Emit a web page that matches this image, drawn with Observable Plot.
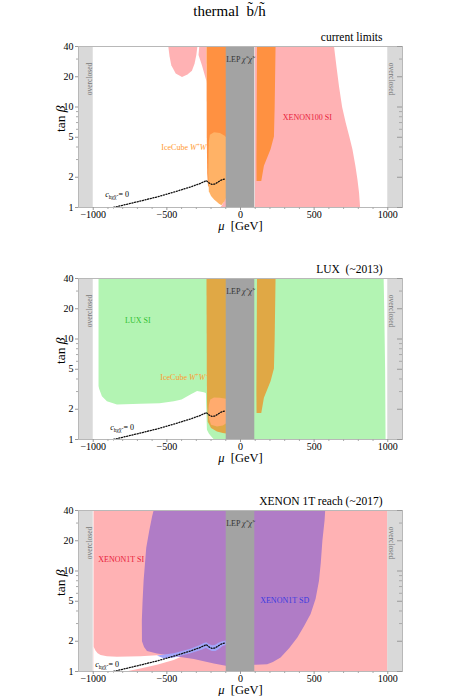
<!DOCTYPE html>
<html><head><meta charset="utf-8">
<script src="https://cdn.jsdelivr.net/npm/d3@7"></script>
<script src="https://cdn.jsdelivr.net/npm/@observablehq/plot@0.6"></script>
<style>
body{margin:0;background:#fff;overflow:hidden;width:459px;height:696px;font-family:"Liberation Serif",serif;}
#title{height:21px;padding-top:2px;line-height:18px;text-align:center;font-size:15px;color:#000;}
svg{display:block}
</style></head><body>
<div id="title">thermal&nbsp; b&#771;/h&#771;</div>
<div id="charts"></div>
<script>
// ---------- axes / shared ----------
const muDomain = [-1100, 1100];
const tanDomain = [1, 40];
const muMajor = [-1000, -500, 0, 500, 1000];
const muMinor = [-900,-800,-700,-600,-400,-300,-200,-100,100,200,300,400,600,700,800,900];
const tanMajor = [1, 2, 5, 10, 20, 40];
const tanMinor = [3, 4, 6, 7, 8, 9, 30];
const overclosedBands = [[-1100, -1000], [1000, 1100]];
const lepBand = [[-97, 97]];

// c_hχχ = 0 contour (dotted)
const cZeroMu  = [-862,-780,-680,-560,-454,-340,-280,-249,-232,-222,-210,-195,-175,-155,-136,-118,-100];
const cZeroTan = [1.0, 1.07, 1.16, 1.28, 1.42, 1.6, 1.72, 1.8, 1.85, 1.8, 1.74, 1.70, 1.71, 1.78, 1.86, 1.9, 1.93];

// ---------- panel 1: current limits ----------
const xenon100Right = [[97,40],[635,40],[652,25],[669,16],[690,10],[714,7],[740,5],[760,3.8],[780,2.6],[794,1.9],[805,1.4],[812,1],[97,1]];
const xenon100LeftTop = [[-490,40],[-482,32],[-470,26],[-440,21.5],[-397,19.9],[-360,21],[-330,23],[-312,27],[-300,33],[-293,40]];
const xenon100LeftStrip = [[-280,40],[-231,40],[-231,18],[-262,26],[-285,33]];
const xenon100LeftFoot = [[-140,1],[-97,1],[-97,1.3],[-112,1.15],[-128,1.04]];
const iceCubeLeft = [[-231,40],[-97,40],[-97,3],[-220,1.6],[-226,2.2],[-229,5]];
const iceCubeLeftSoft = [[-215,4.5],[-208,5.3],[-180,5.6],[-140,5.5],[-110,5.2],[-97,5],[-97,1.25],[-110,1.15],[-130,1.05],[-150,1.1],[-181,1.21],[-200,1.3],[-215,1.45],[-219,2.2],[-217,3.2]];
const iceCubeRight = [[115,40],[238,40],[232,10],[227,5.1],[204,3.8],[159,2.6],[141,1.84],[109,1.84],[108,3],[110,10],[112,40]];

// ---------- panel 2: LUX ----------
const luxSI = [[-964,40],[972,40],[976,20],[982,5],[985,1],[-180,1],[-200,1.08],[-215,1.15],[-228,1.25],[-232,2.0],[-235,2.9],[-249,2.95],[-295,3.03],[-340,2.8],[-400,2.5],[-453,2.4],[-550,2.3],[-680,2.27],[-839,2.23],[-907,2.4],[-941,2.7],[-960,3.2],[-964,3.4]];
const iceCubeLeftLux = [[-231,40],[-97,40],[-97,1.15],[-120,1.16],[-160,1.2],[-200,1.3],[-222,1.5],[-227,2.2],[-229,5]];
const iceCubeLeftLuxSoft = [[-215,2.2],[-205,2.5],[-180,2.62],[-140,2.6],[-97,2.55],[-97,1.45],[-120,1.38],[-160,1.35],[-200,1.4],[-213,1.6],[-218,1.9]];

// ---------- panel 3: XENON 1T ----------
const xenon1tSI = [[-998,40],[998,40],[998,1],[-998,1]];
const xenon1tSIGap = [[-998,1.77],[-985,1.62],[-970,1.52],[-950,1.46],[-907,1.42],[-839,1.4],[-680,1.42],[-567,1.45],[-454,1.45],[-395,1.42],[-454,1.3],[-567,1.17],[-680,1.07],[-780,1.0],[-998,1]];
const xenon1tSD = [[-590,40],[575,40],[571,32],[556,20],[545,12],[533,8],[510,5.3],[476,3.73],[430,2.8],[386,2.18],[330,1.7],[272,1.38],[220,1.24],[181,1.18],[102,1.17],[-100,1.14],[-181,1.2],[-317,1.33],[-454,1.43],[-567,1.51],[-635,1.6],[-655,1.75],[-669,2.0],[-670,3.2],[-665,5],[-658,8],[-640,17],[-620,25],[-600,35]];
const xenon1tSDBand = [[-567,1.44],[-454,1.52],[-340,1.68],[-280,1.82],[-249,1.92],[-232,1.96],[-215,1.88],[-195,1.82],[-175,1.84],[-150,1.93],[-125,2.0],[-100,2.03],[-100,1.84],[-120,1.8],[-145,1.68],[-170,1.6],[-195,1.6],[-215,1.66],[-235,1.72],[-260,1.66],[-340,1.52],[-454,1.38],[-520,1.35]];

// ---------- colours ----------
const C = {
  pink: "#ffb2b4", orange: "#ff9141", orangeSoft: "#ffb266", gold: "#e0a845", salmon: "#ffab6e",
  green: "#b3f4b3", purple: "#b07cc6", band: "#a3a6fb", lep: "#a3a3a3", over: "#d9d9d9"
};

const rich = {
  "LEP χχ": 'LEP <tspan font-style="italic">χ̃</tspan><tspan dy="-3" font-size="5">−</tspan><tspan dy="3" font-style="italic">χ̃</tspan><tspan dy="-3" font-size="5">+</tspan>',
  "IceCube WW": 'IceCube <tspan font-style="italic">W</tspan><tspan dy="-3" font-size="5.5">+</tspan><tspan dy="3" font-style="italic">W</tspan><tspan dy="-3" font-size="5.5">−</tspan>',
  "c=0": '<tspan fill="#000" font-style="italic">c</tspan><tspan fill="#000" dy="2" font-size="5.5">hχ̃χ̃</tspan><tspan fill="#000" dy="-2"> = 0</tspan>',
  "tan β": 'tan <tspan font-style="italic">β</tspan>',
  "μ [GeV]": '<tspan font-style="italic">μ</tspan>  [GeV]'
};

const pxPerMu = (459 - 78 - 57) / (muDomain[1] - muDomain[0]);

function poly(points, fill) {
  return Plot.line(points, {x: d => d[0], y: d => d[1], fill, stroke: "none", curve: "linear", clip: true});
}

function panel(cfg) {
  const marks = [
    ...cfg.regions.map(([pts, fill]) => poly(pts, fill)),
    Plot.rect(lepBand, {x1: d => d[0], x2: d => d[1], y1: () => tanDomain[0], y2: () => tanDomain[1], fill: C.lep}),
    Plot.rect(overclosedBands, {x1: d => d[0], x2: d => d[1], y1: () => tanDomain[0], y2: () => tanDomain[1], fill: C.over}),
    Plot.line(cZeroMu.map((m, i) => [m, cZeroTan[i]]), {x: d => d[0], y: d => d[1], stroke: "#111", strokeWidth: 1.3, strokeDasharray: "1.1,1.6"}),
    Plot.text(["overclosed"], {x: () => -1027, y: () => 19, rotate: -90, fontSize: 7.5, fill: "#777", lineAnchor: "middle"}),
    Plot.text(["overclosed"], {x: () => 1027, y: () => 19, rotate: 90, fontSize: 7.5, fill: "#777", lineAnchor: "middle"}),
    Plot.text(["LEP χχ"], {x: () => 0, y: () => 29.5, fontSize: 8, fill: "#333", lineAnchor: "middle"}),
    ...cfg.labels.map(l => Plot.text([l.t], {x: () => l.x, y: () => l.y, fill: l.c, fontSize: l.s || 8, textAnchor: l.a || "middle", lineAnchor: "middle"})),
    Plot.frame({stroke: "#b8b8b8"}),
    Plot.axisX({ticks: muMajor, tickSize: 3, tickPadding: 0, fontSize: 10, label: null, stroke: "#999", tickFormat: d => d < 0 ? "−" + Math.abs(d) : String(d)}),
    Plot.axisX({ticks: muMinor, tickSize: 2, label: null, stroke: "#aaa", tickFormat: () => ""}),
    Plot.axisY({ticks: tanMajor, tickSize: 3, tickPadding: 2, fontSize: 10, label: null, stroke: "#999", tickFormat: d => String(d)}),
    Plot.axisY({ticks: tanMinor, tickSize: 2, label: null, stroke: "#aaa", tickFormat: () => ""}),
    Plot.ruleY(tanMajor, {x1: () => muDomain[1] - 5 / pxPerMu, x2: () => muDomain[1], stroke: "#999"}),
    Plot.ruleY(tanMinor, {x1: () => muDomain[1] - 3 / pxPerMu, x2: () => muDomain[1], stroke: "#aaa"}),
    Plot.text([cfg.subtitle], {frameAnchor: "top-right", dx: -20, dy: -9, textAnchor: "end", lineAnchor: "middle", fontSize: 11.5, fill: "#000"}),
    Plot.text(["tan β"], {frameAnchor: "left", dx: -18, dy: 5, rotate: -90, fontSize: 13.5, fill: "#000", lineAnchor: "middle"}),
    Plot.text(["μ [GeV]"], {frameAnchor: "bottom", dy: 18, fontSize: 12.5, fill: "#000", lineAnchor: "middle"})
  ];
  const svg = Plot.plot({
    width: 459, height: 232,
    marginLeft: 78, marginRight: 57, marginTop: 23, marginBottom: 48,
    x: {domain: muDomain, axis: null},
    y: {type: "log", domain: tanDomain, axis: null},
    style: {fontFamily: "Liberation Serif, serif", fontSize: "10px", background: "white", color: "#000"},
    marks
  });
  d3.select(svg).selectAll("text").each(function () {
    const t = this.textContent;
    if (rich[t] !== undefined) this.innerHTML = rich[t];
  });
  return svg;
}

const panels = [
  {
    subtitle: "current limits",
    regions: [[xenon100Right, C.pink], [xenon100LeftTop, C.pink], [xenon100LeftStrip, C.pink], [xenon100LeftFoot, C.pink],
              [iceCubeLeft, C.orange], [iceCubeLeftSoft, C.orangeSoft], [iceCubeRight, C.orange]],
    labels: [
      {t: "IceCube WW", x: -374, y: 3.96, c: "#ff9a30"},
      {t: "XENON100 SI", x: 454, y: 7.9, c: "#e8203a"},
      {t: "c=0", x: -918, y: 1.355, c: "#000", a: "start"}
    ]
  },
  {
    subtitle: "LUX  (~2013)",
    regions: [[luxSI, C.green], [iceCubeLeftLux, C.gold], [iceCubeLeftLuxSoft, C.salmon], [iceCubeRight, C.gold]],
    labels: [
      {t: "LUX SI", x: -697, y: 15.3, c: "#2fbf2f"},
      {t: "IceCube WW", x: -381, y: 4.1, c: "#ff9a30"},
      {t: "c=0", x: -884, y: 1.32, c: "#000", a: "start"}
    ]
  },
  {
    subtitle: "XENON 1T reach (~2017)",
    regions: [[xenon1tSI, C.pink], [xenon1tSIGap, "white"], [xenon1tSD, C.purple], [xenon1tSDBand, C.band]],
    labels: [
      {t: "XENON1T SI", x: -810, y: 13, c: "#e8203a"},
      {t: "XENON1T SD", x: 300, y: 5.15, c: "#3a3ae0"},
      {t: "c=0", x: -986, y: 1.17, c: "#000", a: "start"}
    ]
  }
];

const host = document.getElementById("charts");
panels.forEach(p => host.appendChild(panel(p)));
</script>
</body></html>
